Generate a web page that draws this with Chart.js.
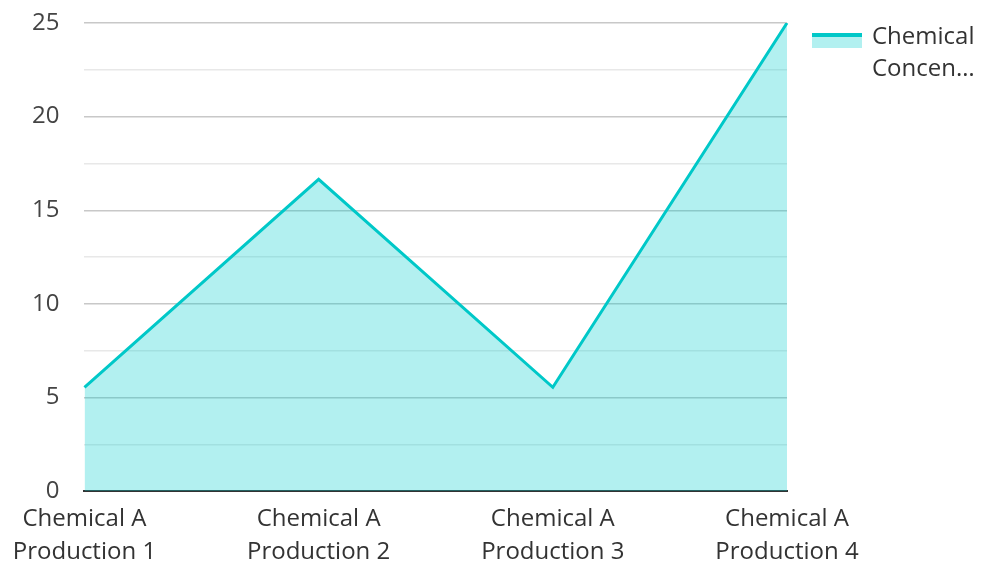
<!DOCTYPE html>
<html>
<head>
<meta charset="utf-8">
<script src="https://cdn.jsdelivr.net/npm/chart.js@4.4.1/dist/chart.umd.min.js"></script>
<style>
  html, body { margin: 0; padding: 0; background: #ffffff; }
  #wrap { width: 981px; height: 562px; position: relative; }
</style>
</head>
<body>
<div id="wrap"><canvas id="chart"></canvas></div>
<script>
// Categories (two-line axis labels)
const categories = [
  ["Chemical A", "Production 1"],
  ["Chemical A", "Production 2"],
  ["Chemical A", "Production 3"],
  ["Chemical A", "Production 4"]
];
// Series values
const seriesName = "Chemical Concentration";
const legendLines = ["Chemical", "Concen\u2026"];
const concentration = [5.55, 16.65, 5.55, 25];
// Value axis
const yMin = 0;
const yMax = 25;
const yStep = 2.5;
const yLabelEvery = 5;

const FONT = "'Open Sans', 'Noto Sans', sans-serif";
const LINE = "#00c8c8";
const FILL = "rgba(0, 204, 204, 0.30)";

// Legend on the right with a wrapped, shortened label
const sideLegend = {
  id: "sideLegend",
  afterDraw(chart) {
    const ctx = chart.ctx;
    const x = chart.chartArea.right + 25;
    const y = 33;
    ctx.save();
    ctx.fillStyle = FILL;
    ctx.fillRect(x, y, 50, 15);
    ctx.fillStyle = LINE;
    ctx.fillRect(x, y, 50, 4);
    ctx.fillStyle = "#333333";
    ctx.font = "24px " + FONT;
    ctx.textBaseline = "middle";
    ctx.textAlign = "left";
    legendLines.forEach((t, i) => ctx.fillText(t, x + 60, 37 + i * 32));
    ctx.restore();
  }
};

new Chart(document.getElementById("chart"), {
  type: "line",
  data: {
    labels: categories,
    datasets: [{
      label: seriesName,
      data: concentration,
      borderColor: LINE,
      backgroundColor: FILL,
      borderWidth: 3,
      fill: "origin",
      tension: 0,
      pointRadius: 0,
      pointHoverRadius: 0
    }]
  },
  options: {
    responsive: true,
    maintainAspectRatio: false,
    animation: false,
    layout: { padding: { top: 23, right: 194, left: 32, bottom: -18 } },
    plugins: {
      legend: { display: false },
      tooltip: { enabled: false }
    },
    scales: {
      x: {
        offset: false,
        grid: { display: false, drawTicks: false },
        border: { display: true, color: "#333333", width: 2 },
        ticks: {
          color: "#333333",
          font: { family: FONT, size: 24, lineHeight: 1.35 },
          padding: 12,
          maxRotation: 0,
          autoSkip: false
        }
      },
      y: {
        min: yMin,
        max: yMax,
        grid: {
          drawTicks: true,
          tickLength: 25,
          tickColor: "rgba(0,0,0,0)",
          lineWidth: 1.5,
          color: (c) => (c.tick && c.tick.value % yLabelEvery === 0) ? "#c8c8c8" : "#e8e8e8"
        },
        border: { display: false },
        ticks: {
          stepSize: yStep,
          color: "#444444",
          font: { family: FONT, size: 24 },
          padding: 0,
          callback: (v) => (v % yLabelEvery === 0 ? v : "")
        }
      }
    }
  },
  plugins: [sideLegend]
});
</script>
</body>
</html>
